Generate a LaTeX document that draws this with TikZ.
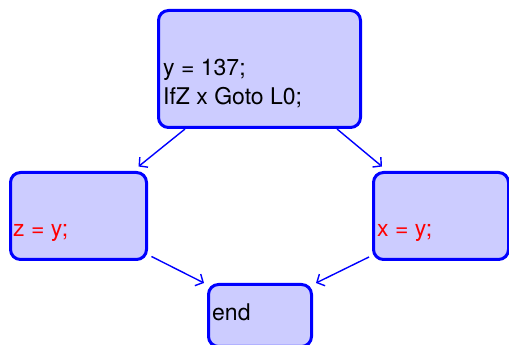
\documentclass[tikz,border=0pt]{standalone}
\usepackage{fontspec}
\setmainfont{TeX Gyre Heros}
\usetikzlibrary{arrows.meta}
\begin{document}
\begin{tikzpicture}[x=1pt,y=1pt,
  block/.style={draw=blue, line width=3pt, fill=blue!20, rounded corners=10pt,
    rectangle, inner sep=0pt},
  code/.style={anchor=base west, inner sep=0pt, font=\fontsize{23}{28}\selectfont},
  flow/.style={draw=blue, line width=1.4pt, -{Straight Barb[length=6pt,width=13pt]}}]
\useasboundingbox (0,0) rectangle (509,345);
% basic blocks
\node[block, minimum width=202pt, minimum height=117pt] (top) at (259.5,276) {};
\node[block, minimum width=136pt, minimum height=87pt] (left) at (78.5,129) {};
\node[block, minimum width=135pt, minimum height=87pt] (right) at (441,129) {};
\node[block, minimum width=103pt, minimum height=62pt] (end) at (260,29.5) {};
% statements
\node[code] (t1) at (163,269) {y = 137;};
\node[code] (t2) at (163,240) {IfZ x Goto L0;};
\node[code, text=red] (l1) at (13,108) {z = y;};
\node[code, text=red] (r1) at (377,108) {x = y;};
\node[code] (e1) at (212,24) {end};
% control flow edges
\draw[flow] ([xshift=-74.5pt]top.south) -- ([shift={(-9.5,4.5)}]left.north east);
\draw[flow] ([xshift=77.5pt]top.south) -- ([shift={(10,4.5)}]right.north west);
\draw[flow] ([shift={(3.5,4.5)}]left.south east) -- ([shift={(-3,0)}]end.north west);
\draw[flow] ([shift={(-3,4)}]right.south west) -- ([shift={(3,0)}]end.north east);
\end{tikzpicture}
\end{document}
